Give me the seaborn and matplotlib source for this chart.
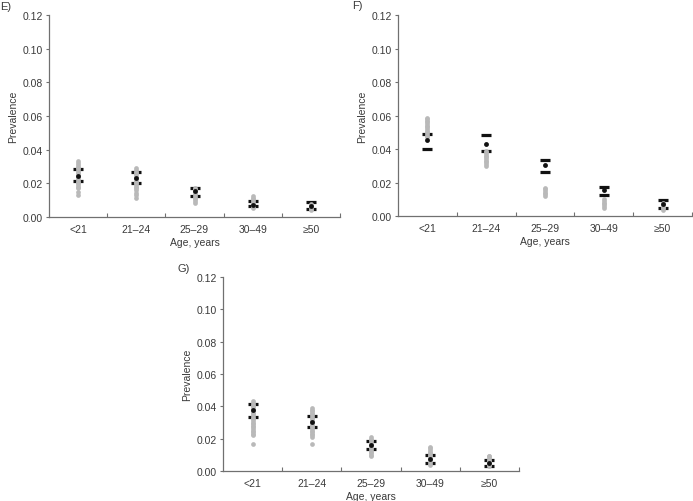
import numpy as np
import pandas as pd
import matplotlib
matplotlib.use("Agg")
import matplotlib.pyplot as plt
import seaborn as sns
from matplotlib.ticker import FixedLocator, FormatStrFormatter


# ─────────────────────────────────────────────
# Data
# ─────────────────────────────────────────────

AGE_GROUPS = ["<21", "21–24", "25–29", "30–49", "≥50"]

# gray points: simulated prevalences per age group
E_SIM = [
    [0.013, 0.015, 0.017, 0.018, 0.019, 0.020, 0.021, 0.022, 0.023, 0.024,
     0.025, 0.026, 0.027, 0.028, 0.029, 0.030, 0.031, 0.032, 0.033],
    [0.0115, 0.013, 0.0145, 0.016, 0.017, 0.018, 0.019, 0.020, 0.021, 0.022,
     0.023, 0.024, 0.025, 0.026, 0.027, 0.028, 0.029],
    [0.0085, 0.0095, 0.0105, 0.0115, 0.0125, 0.0135, 0.0145, 0.0155, 0.0165, 0.0175],
    [0.0055, 0.0065, 0.0075, 0.0085, 0.0095, 0.0105, 0.0115, 0.0122],
    [0.004, 0.005, 0.006, 0.007, 0.008],
]
F_SIM = [
    [0.047, 0.048, 0.049, 0.050, 0.051, 0.052, 0.053, 0.054, 0.055, 0.056,
     0.057, 0.058, 0.0585],
    [0.030, 0.031, 0.032, 0.033, 0.034, 0.035, 0.036, 0.037, 0.038, 0.039],
    [0.012, 0.013, 0.014, 0.015, 0.016, 0.017],
    [0.005, 0.006, 0.007, 0.008, 0.009, 0.010],
    [0.0035, 0.0045, 0.0055, 0.0065, 0.0075],
]
G_SIM = [
    [0.017, 0.022, 0.023, 0.024, 0.025, 0.026, 0.027, 0.028, 0.029, 0.030,
     0.031, 0.032, 0.033, 0.034, 0.035, 0.036, 0.037, 0.038, 0.039, 0.040,
     0.041, 0.042, 0.043],
    [0.017, 0.021, 0.022, 0.023, 0.024, 0.025, 0.026, 0.027, 0.028, 0.029,
     0.030, 0.031, 0.032, 0.033, 0.034, 0.035, 0.036, 0.037, 0.038, 0.039],
    [0.009, 0.010, 0.011, 0.012, 0.013, 0.014, 0.015, 0.016, 0.017, 0.018,
     0.019, 0.020, 0.021],
    [0.004, 0.005, 0.006, 0.007, 0.008, 0.009, 0.010, 0.011, 0.012, 0.013,
     0.014, 0.015],
    [0.003, 0.004, 0.005, 0.006, 0.007, 0.008, 0.009, 0.0095],
]

# black dot = observed prevalence, black bars = 95% CI bounds
E_EST = [0.0244, 0.0232, 0.0154, 0.0073, 0.0065]
E_HI = [0.0285, 0.0265, 0.0174, 0.0097, 0.0087]
E_LO = [0.0214, 0.0204, 0.0125, 0.0065, 0.0046]

F_EST = [0.0451, 0.0431, 0.0302, 0.0153, 0.0073]
F_HI = [0.0490, 0.0483, 0.0334, 0.0175, 0.0093]
F_LO = [0.0401, 0.0391, 0.0262, 0.0123, 0.0050]

G_EST = [0.0375, 0.0305, 0.0163, 0.0076, 0.0047]
G_HI = [0.0414, 0.0342, 0.0185, 0.0097, 0.0068]
G_LO = [0.0331, 0.0274, 0.0136, 0.0051, 0.0033]

Y_TICKS = [0.00, 0.02, 0.04, 0.06, 0.08, 0.10, 0.12]


# ─────────────────────────────────────────────
# Style
# ─────────────────────────────────────────────

sns.set_style("ticks")
plt.rcParams["font.family"] = ["Liberation Sans", "DejaVu Sans"]
plt.rcParams["font.size"] = 7.5

TEXT_COLOR = "#3a3a3a"
SPINE_COLOR = "#707070"
GRAY_DOT = "#b9b9b9"

W, H = 693, 502


def sim_frame(sim):
    rows = [(grp, v) for grp, vals in zip(AGE_GROUPS, sim) for v in vals]
    return pd.DataFrame(rows, columns=["age", "prev"])


def draw_panel(ax, sim, est, hi, lo):
    bounds = pd.DataFrame({"age": AGE_GROUPS * 2, "prev": hi + lo})
    points = pd.DataFrame({"age": AGE_GROUPS, "prev": est})

    sns.stripplot(data=bounds, x="age", y="prev", order=AGE_GROUPS, ax=ax,
                  jitter=False, marker="_", size=7.5, color="#111111",
                  edgecolor="#111111", linewidth=2.3, zorder=3)
    sns.stripplot(data=sim_frame(sim), x="age", y="prev", order=AGE_GROUPS, ax=ax,
                  jitter=False, size=3.4, color=GRAY_DOT, linewidth=0, zorder=4)
    sns.stripplot(data=points, x="age", y="prev", order=AGE_GROUPS, ax=ax,
                  jitter=False, size=3.5, color="#111111", linewidth=0, zorder=5)

    ax.set_xlim(-0.5, len(AGE_GROUPS) - 0.5)
    ax.set_ylim(0, 0.12)
    ax.set_yticks(Y_TICKS)
    ax.yaxis.set_major_formatter(FormatStrFormatter("%.2f"))
    ax.xaxis.set_minor_locator(FixedLocator([0.5, 1.5, 2.5, 3.5, 4.5]))

    ax.tick_params(axis="x", which="major", length=0, pad=5, colors=TEXT_COLOR,
                   labelsize=7.5)
    ax.tick_params(axis="x", which="minor", direction="in", length=3,
                   width=0.8, color=SPINE_COLOR)
    ax.tick_params(axis="y", direction="out", length=2.5, width=0.8,
                   color=SPINE_COLOR, labelcolor=TEXT_COLOR, labelsize=7.5, pad=2)

    for side in ["top", "right"]:
        ax.spines[side].set_visible(False)
    for side in ["left", "bottom"]:
        ax.spines[side].set_color(SPINE_COLOR)
        ax.spines[side].set_linewidth(0.9)

    ax.set_xlabel("Age, years", color=TEXT_COLOR, fontsize=7.5, labelpad=2)
    ax.set_ylabel("Prevalence", color=TEXT_COLOR, fontsize=7.5, labelpad=3)


fig = plt.figure(figsize=(W / 100, H / 100), dpi=100)

# axes boxes in pixel coords: left, top, right, bottom
boxes = {
    "E": (49, 16, 340, 218),
    "F": (398, 16, 692, 217),
    "G": (223, 278, 519, 472),
}
panels = {
    "E": (E_SIM, E_EST, E_HI, E_LO),
    "F": (F_SIM, F_EST, F_HI, F_LO),
    "G": (G_SIM, G_EST, G_HI, G_LO),
}
letter_pos = {"E": (0, 7), "F": (352, 6), "G": (177, 269)}

for key, (l, t, r, b) in boxes.items():
    ax = fig.add_axes([l / W, 1 - b / H, (r - l) / W, (b - t) / H])
    draw_panel(ax, *panels[key])
    lx, ly = letter_pos[key]
    fig.text(lx / W, 1 - ly / H, f"{key})", ha="left", va="center",
             fontsize=8, color=TEXT_COLOR)

fig.savefig("out.png", dpi=100)
